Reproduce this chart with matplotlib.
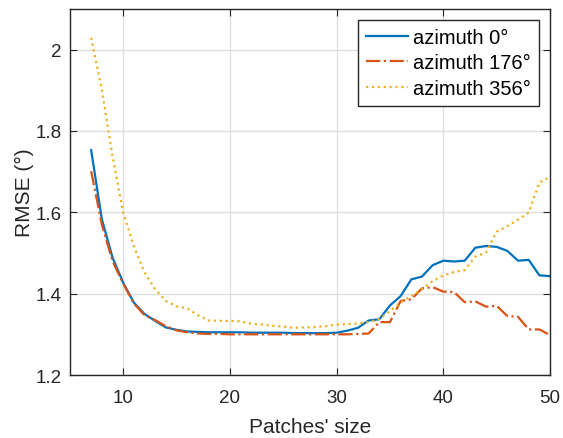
import numpy as np
import matplotlib
matplotlib.use('Agg')
import matplotlib.pyplot as plt

plt.rcParams['font.family'] = ['Liberation Sans', 'DejaVu Sans']

# patch sizes
patch_size = list(range(7, 51))

# RMSE values (degrees)
rmse_az0 = [1.753, 1.583, 1.489, 1.427, 1.378, 1.350, 1.333, 1.317, 1.311, 1.307,
            1.306, 1.305, 1.305, 1.305, 1.305, 1.304, 1.304, 1.304, 1.304, 1.303,
            1.303, 1.303, 1.303, 1.304, 1.309, 1.316, 1.334, 1.337, 1.371, 1.394,
            1.435, 1.442, 1.470, 1.481, 1.479, 1.481, 1.513, 1.517, 1.515, 1.505,
            1.481, 1.483, 1.445, 1.443]
rmse_az176 = [1.701, 1.570, 1.480, 1.425, 1.376, 1.347, 1.335, 1.320, 1.310, 1.305,
              1.302, 1.301, 1.301, 1.300, 1.300, 1.300, 1.300, 1.300, 1.300, 1.300,
              1.300, 1.300, 1.300, 1.300, 1.300, 1.301, 1.302, 1.330, 1.330, 1.382,
              1.386, 1.413, 1.416, 1.405, 1.404, 1.379, 1.381, 1.368, 1.370, 1.345,
              1.343, 1.312, 1.312, 1.298]
rmse_az356 = [2.029, 1.902, 1.738, 1.599, 1.517, 1.452, 1.411, 1.382, 1.369, 1.364,
              1.347, 1.334, 1.333, 1.333, 1.332, 1.326, 1.324, 1.321, 1.319, 1.316,
              1.317, 1.318, 1.320, 1.324, 1.325, 1.327, 1.330, 1.338, 1.357, 1.378,
              1.394, 1.411, 1.431, 1.445, 1.453, 1.458, 1.491, 1.501, 1.552, 1.566,
              1.582, 1.599, 1.673, 1.687]

labels = ['azimuth 0°', 'azimuth 176°', 'azimuth 356°']

fig = plt.figure(figsize=(5.63, 4.39), dpi=100)
ax = fig.add_axes([0.124, 0.1435, 0.853, 0.834])

ax.plot(patch_size, rmse_az0, '-', color='#0072BD', lw=1.6, label=labels[0])
ax.plot(patch_size, rmse_az176, '-.', color='#D95319', lw=1.6, label=labels[1])
ax.plot(patch_size, rmse_az356, ':', color='#EDB120', lw=1.6, label=labels[2])

ax.set_xlim(5, 50)
ax.set_ylim(1.2, 2.1)
ax.set_xticks([10, 20, 30, 40, 50])
ax.set_yticks([1.2, 1.4, 1.6, 1.8, 2.0])
ax.set_yticklabels(['1.2', '1.4', '1.6', '1.8', '2'])

ax.grid(True, color='#dfdfdf', lw=1)
ax.set_axisbelow(True)
ax.tick_params(direction='in', top=True, right=True, labelsize=13.5,
               colors='#262626', length=5)
ax.tick_params(axis='x', pad=10)
ax.tick_params(axis='y', pad=6)
for s in ax.spines.values():
    s.set_color('#262626')
    s.set_linewidth(1)

ax.set_xlabel("Patches' size", fontsize=15, color='#262626', labelpad=8)
ax.set_ylabel('RMSE (°)', fontsize=15, color='#262626', labelpad=1)

leg = ax.legend(loc='upper right', fontsize=14.5, fancybox=False, framealpha=1,
                edgecolor='#262626', handlelength=2.1, borderaxespad=0.55,
                labelspacing=0.32, handletextpad=0.25, borderpad=0.4)
leg.get_frame().set_linewidth(1)

fig.savefig('out.png', dpi=100)
